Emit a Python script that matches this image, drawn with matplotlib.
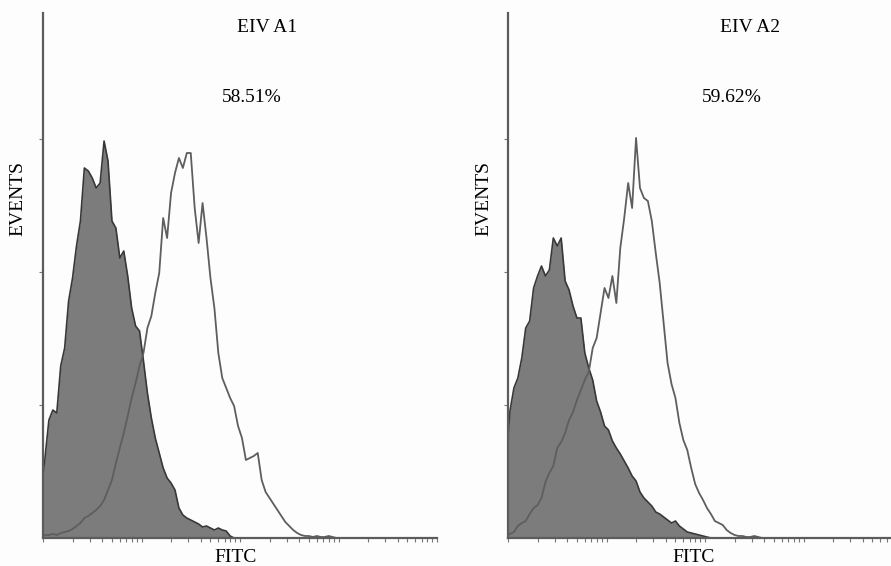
import numpy as np
import matplotlib
matplotlib.use("Agg")
import matplotlib.pyplot as plt
from matplotlib.ticker import LogLocator, NullFormatter

# ---- data (events per channel, 100 log channels over 4 decades) ----
n_bins = 100
a1_control = [80, 118, 128, 125, 172, 190, 237, 260, 292, 317,
              370, 367, 360, 350, 355, 397, 377, 317, 310, 280,
              287, 262, 230, 212, 207, 177, 145, 120, 100, 85,
              70, 60, 55, 48, 30, 23, 20, 18, 16, 14,
              11, 12, 10, 8, 10, 8, 7, 2]
a1_sample = [3, 3, 4, 3, 5, 6, 7, 9, 12, 15,
             20, 22, 25, 28, 32, 38, 48, 58, 75, 90,
             105, 122, 140, 155, 172, 185, 210, 222, 245, 265,
             320, 300, 345, 365, 380, 370, 385, 385, 330, 295,
             335, 300, 260, 230, 185, 160, 150, 140, 132, 112,
             100, 78, 80, 82, 85, 58, 46, 40, 34, 28,
             22, 16, 12, 8, 5, 3, 2, 2, 1, 2,
             1, 1, 2, 1]
a2_control = [127, 150, 160, 180, 210, 217, 250, 262, 272, 262,
              268, 300, 292, 300, 257, 248, 232, 220, 220, 185,
              170, 158, 137, 126, 112, 108, 97, 90, 84, 77,
              70, 62, 57, 46, 40, 36, 32, 26, 24, 21,
              18, 15, 17, 12, 9, 6, 5, 4, 3, 2, 1]
a2_sample = [4, 6, 12, 15, 17, 24, 30, 33, 40, 56,
             65, 72, 90, 96, 105, 118, 126, 138, 148, 158,
             166, 190, 200, 225, 250, 240, 262, 235, 290, 320,
             355, 330, 400, 350, 340, 337, 317, 285, 255, 215,
             175, 154, 140, 115, 98, 88, 70, 54, 45, 38,
             30, 24, 17, 15, 13, 8, 5, 3, 2, 2,
             1, 1, 2, 1]
titles = ["EIV A1", "EIV A2"]
percents = ["58.51%", "59.62%"]
x_label = "FITC"
y_label = "EVENTS"
y_ticks = [133, 266, 399]


def pad(vals):
    v = np.zeros(n_bins)
    v[:len(vals)] = vals
    return v


edges = np.logspace(0, 4, n_bins + 1)
centers = np.sqrt(edges[:-1] * edges[1:])


def trace(vals):
    v = pad(vals)
    xs = np.concatenate([[edges[0]], centers, [edges[-1]]])
    ys = np.concatenate([[v[0] * 0.8], v, [v[-1]]])
    return xs, ys


plt.rcParams['font.family'] = ['Liberation Serif', 'DejaVu Serif']
W, H = 891, 566
fig = plt.figure(figsize=(W / 100, H / 100), dpi=100)
fig.patch.set_facecolor('#fdfdfd')

panels = [
    dict(x0=43, ctrl=a1_control, samp=a1_sample, title_x=267, pct_x=252,
         ev_x=18, fitc_x=236),
    dict(x0=508, ctrl=a2_control, samp=a2_sample, title_x=750, pct_x=732,
         ev_x=484, fitc_x=694),
]
bottom_px, top_px, width_px = 538, 13, 394

for i, p in enumerate(panels):
    ax = fig.add_axes([p['x0'] / W, (H - bottom_px) / H, width_px / W,
                       (bottom_px - top_px) / H])
    ax.set_facecolor('#fdfdfd')
    ax.set_xscale('log')
    ax.set_xlim(1, 1e4)
    ax.set_ylim(0, 525)
    cx, cy = trace(p['ctrl'])
    sx, sy = trace(p['samp'])
    ax.fill_between(cx, 0, cy, color='#7c7c7c', lw=0, zorder=2)
    ax.plot(cx, cy, color='#383838', lw=1.2, zorder=3)
    ax.plot(sx, sy, color='#5e5e5e', lw=1.3, zorder=4)
    for s in ['top', 'right']:
        ax.spines[s].set_visible(False)
    for s in ['left', 'bottom']:
        ax.spines[s].set_color('#5c5c5c')
        ax.spines[s].set_linewidth(1.6)
        ax.spines[s].set_zorder(5)
    ax.set_yticks(y_ticks)
    ax.set_yticklabels([])
    ax.xaxis.set_major_locator(LogLocator(base=10, numticks=10))
    ax.xaxis.set_minor_locator(LogLocator(base=10, subs=np.arange(2, 10), numticks=20))
    ax.xaxis.set_major_formatter(NullFormatter())
    ax.xaxis.set_minor_formatter(NullFormatter())
    ax.tick_params(axis='both', which='both', direction='out', length=3,
                   width=0.8, color='#777777')
    fig.text(p['title_x'] / W, 1 - 28 / H, titles[i], ha='center', va='center',
             fontsize=14)
    fig.text(p['pct_x'] / W, 1 - 97 / H, percents[i], ha='center', va='center',
             fontsize=14)
    fig.text(p['ev_x'] / W, 1 - 198 / H, y_label, ha='center', va='center',
             rotation=90, fontsize=14)
    fig.text(p['fitc_x'] / W, 1 - 557 / H, x_label, ha='center', va='center',
             fontsize=14)

fig.savefig('out.png', dpi=100, facecolor=fig.get_facecolor())
